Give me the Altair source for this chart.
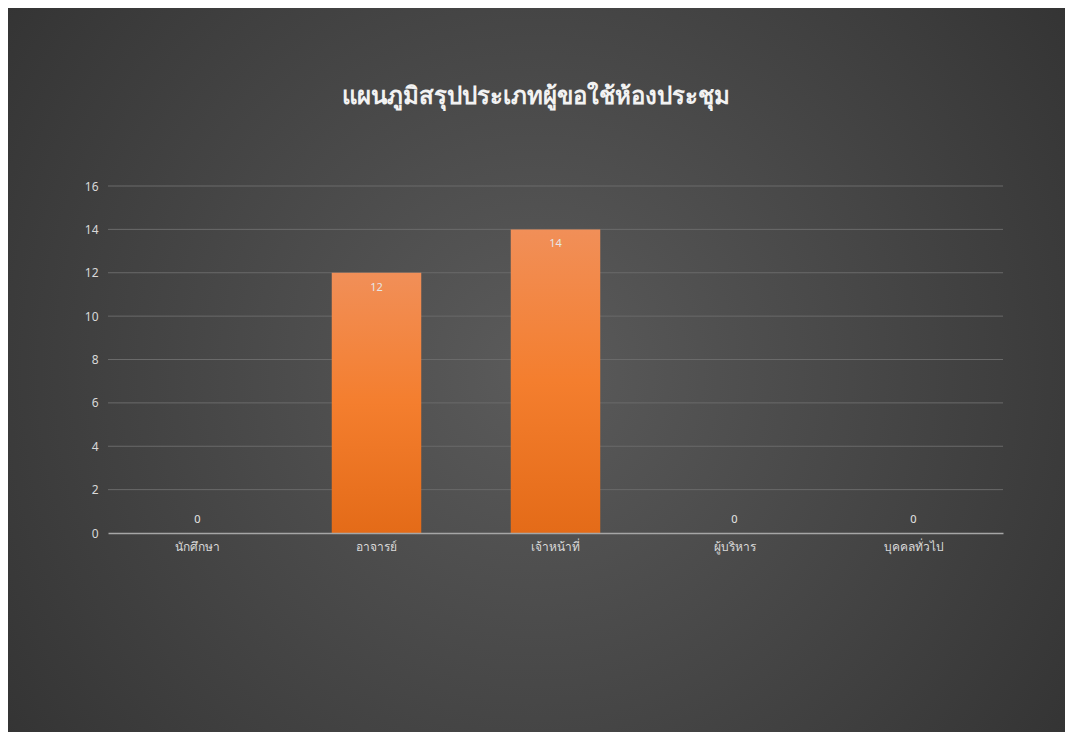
import altair as alt
import pandas as pd

categories = ["นักศึกษา", "อาจารย์", "เจ้าหน้าที่", "ผู้บริหาร", "บุคคลทั่วไป"]
counts = [0, 12, 14, 0, 0]
y_ticks = [0, 2, 4, 6, 8, 10, 12, 14, 16]
grid_ticks = [2, 4, 6, 8, 10, 12, 14, 16]
title_text = "แผนภูมิสรุปประเภทผู้ขอใช้ห้องประชุม"

df = pd.DataFrame({"cat": categories, "value": counts})
grid_df = pd.DataFrame({"value": grid_ticks})

W, H = 895, 347
PAD = {"left": 100, "top": 178, "right": 62, "bottom": 199}
FONT = "Noto Sans"

x_enc = alt.X("cat:N", sort=categories,
              scale=alt.Scale(paddingInner=0.5, paddingOuter=0.25),
              axis=alt.Axis(title=None, labelAngle=0, labelColor="#d9d9d9",
                            labelFontSize=12, labelFont=FONT, labelPadding=8,
                            labelFontWeight=500,
                            ticks=False, domainColor="#a6a6a6", domainWidth=1.5,
                            grid=False, zindex=1))
y_scale = alt.Scale(domain=[0, 16], nice=False, zero=True)
y_axis = alt.Axis(title=None, values=y_ticks,
                  labelColor="#d9d9d9", labelFontSize=12, labelFont=FONT,
                  labelPadding=10, ticks=False, domain=False, grid=False,
                  zindex=1)
y_enc = alt.Y("value:Q", scale=y_scale, axis=y_axis)

bg = alt.Chart(alt.Data(values=[{}])).mark_rect(
    fill={"gradient": "radial",
          "stops": [{"offset": 0, "color": "#5b5b5b"},
                    {"offset": 1, "color": "#2d2d2d"}],
          "x1": 0.5, "y1": 0.5, "r1": 0, "x2": 0.5, "y2": 0.5, "r2": 0.72},
).encode(x=alt.value(-PAD["left"]), x2=alt.value(W + PAD["right"]),
         y=alt.value(-PAD["top"]), y2=alt.value(H + PAD["bottom"]))

grid = alt.Chart(grid_df).mark_rule(color="#6a6a6a", strokeWidth=1).encode(
    y=alt.Y("value:Q", scale=y_scale, axis=y_axis),
    x=alt.value(0), x2=alt.value(W))

bars = alt.Chart(df).mark_bar(
    color={"gradient": "linear",
           "stops": [{"offset": 0, "color": "#f18f58"},
                     {"offset": 0.5, "color": "#f47e2e"},
                     {"offset": 1, "color": "#e46b18"}],
           "x1": 0, "y1": 0, "x2": 0, "y2": 1}
).encode(x=x_enc, y=y_enc)

lab_pos = alt.Chart(df).transform_filter("datum.value > 0").mark_text(
    baseline="middle", dy=15, color="#e6e6e6", fontSize=11, font=FONT
).encode(x=alt.X("cat:N", sort=categories), y=alt.Y("value:Q"), text="value:Q")

lab_zero = alt.Chart(df).transform_filter("datum.value == 0").mark_text(
    baseline="middle", dy=-13, color="#e6e6e6", fontSize=11, font=FONT
).encode(x=alt.X("cat:N", sort=categories), y=alt.Y("value:Q"), text="value:Q")

title = alt.Chart(alt.Data(values=[{"t": title_text}])).mark_text(
    align="center", baseline="alphabetic", fontSize=24, fontWeight="bold",
    color="#f2f2f2", font=FONT
).encode(x=alt.value(428), y=alt.value(-82), text="t:N")

chart = alt.layer(bg, grid, bars, lab_pos, lab_zero, title).properties(
    width=W, height=H, padding=PAD, autosize=alt.AutoSizeParams(type="none"),
    background="#2d2d2d"
).configure_view(stroke=None)

chart.save("out.html", embed_options={"renderer": "svg", "actions": False})
